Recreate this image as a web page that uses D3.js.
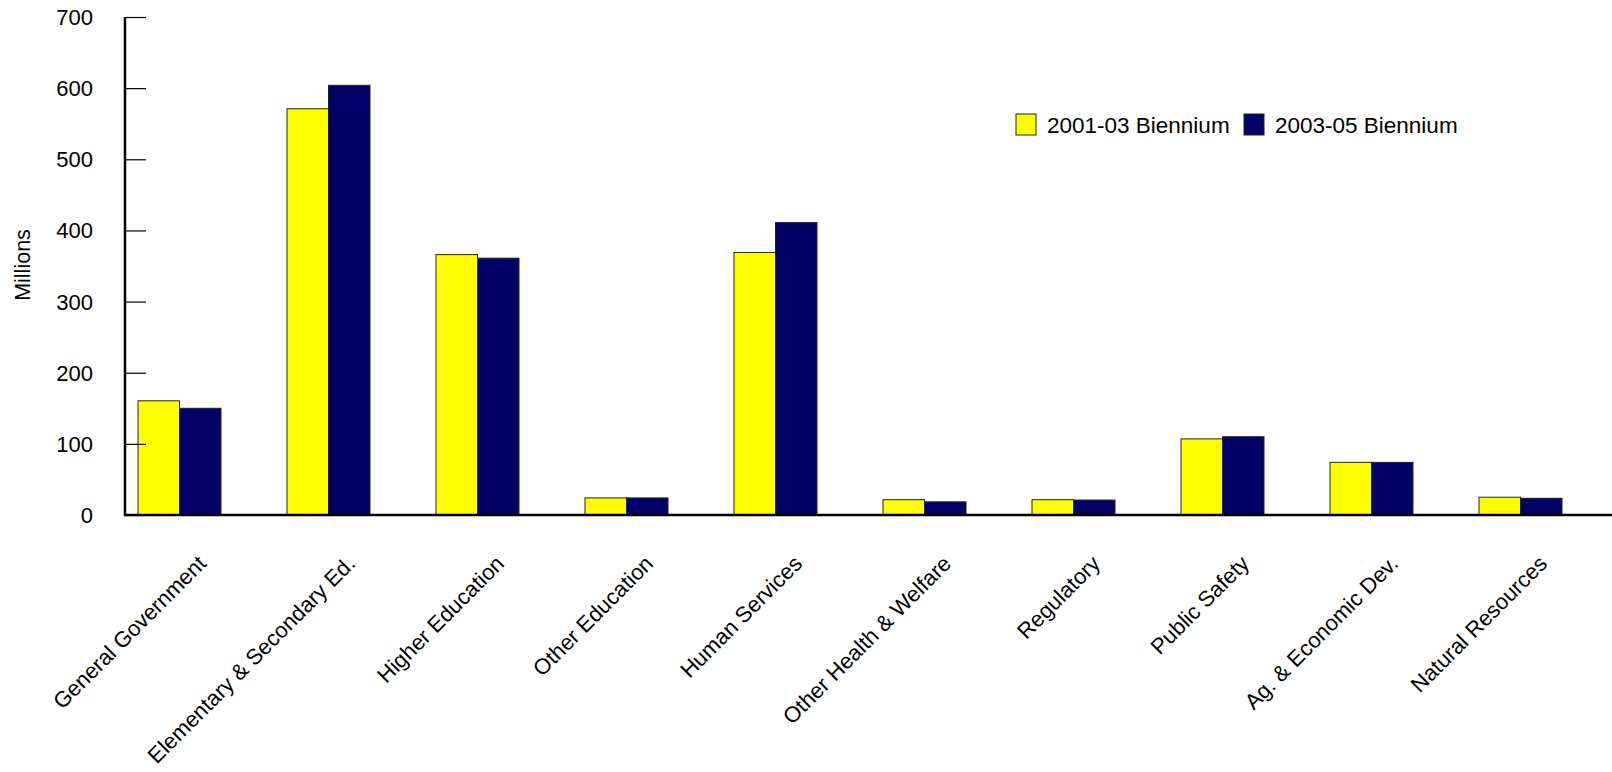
<!DOCTYPE html>
<html>
<head>
<meta charset="utf-8">
<script src="https://cdn.jsdelivr.net/npm/d3@7"></script>
<style>
  body { margin: 0; background: #fff; }
  svg text { font-family: Arial, "Liberation Sans", sans-serif; fill: #000; }
</style>
</head>
<body>
<svg id="chart" width="1612" height="772"></svg>
<script>
// data
var categories = ["General Government", "Elementary & Secondary Ed.", "Higher Education",
                  "Other Education", "Human Services", "Other Health & Welfare",
                  "Regulatory", "Public Safety", "Ag. & Economic Dev.", "Natural Resources"];
var series = ["2001-03 Biennium", "2003-05 Biennium"];
var values0103 = [160.5, 571, 366, 24, 369, 21.5, 21.5, 107, 74, 25];
var values0305 = [150, 604, 361, 24, 411, 18.5, 21, 110, 74, 23.5];
var yTicks = [0, 100, 200, 300, 400, 500, 600, 700];
var colors = ["#ffff00", "#000066"];

var svg = d3.select("svg#chart");

// plot box (note: "top" is reserved on window, so use other names)
var plotLeft = 125, plotRight = 1615, plotTop = 17, plotBottom = 515;

var x = d3.scaleBand()
          .domain(categories)
          .range([plotLeft, plotRight]);

var xs = d3.scaleBand()
           .domain(series)
           .range([13, 96]);

var y = d3.scaleLinear()
          .domain([0, 700])
          .range([plotBottom, plotTop]);

var rows = categories.map(function(c, i) {
    return {cat: c, vals: [values0103[i], values0305[i]]};
});

// bars
var groups = svg.selectAll("g.cat")
                .data(rows)
                .enter().append("g")
                .attr("class", "cat")
                .attr("transform", function(d) { return "translate(" + x(d.cat) + ",0)"; });

groups.selectAll("rect")
      .data(function(d) { return d.vals.map(function(v, j) { return {s: series[j], v: v, j: j}; }); })
      .enter().append("rect")
      .attr("x", function(d) { return xs(d.s); })
      .attr("y", function(d) { return y(d.v); })
      .attr("width", xs.bandwidth())
      .attr("height", function(d) { return plotBottom - y(d.v); })
      .attr("fill", function(d) { return colors[d.j]; })
      .attr("stroke", "#222")
      .attr("stroke-width", 1);

// y axis, ticks point inward
var yAxis = svg.append("g")
               .attr("transform", "translate(" + plotLeft + ",0)")
               .call(d3.axisRight(y).tickValues(yTicks).tickSize(21).tickFormat(""));
yAxis.select(".domain").remove();
yAxis.selectAll(".tick line").attr("stroke", "#000").attr("stroke-width", 1.2);

svg.selectAll("text.ytick")
   .data(yTicks)
   .enter().append("text")
   .attr("class", "ytick")
   .attr("x", 93)
   .attr("y", function(d) { return y(d) + 8; })
   .attr("text-anchor", "end")
   .style("font-size", "22px")
   .text(function(d) { return d; });

svg.append("line")
   .attr("x1", plotLeft).attr("x2", plotLeft)
   .attr("y1", plotTop).attr("y2", plotBottom + 1)
   .attr("stroke", "#000").attr("stroke-width", 2.5);

svg.append("line")
   .attr("x1", plotLeft - 1).attr("x2", 1612)
   .attr("y1", plotBottom).attr("y2", plotBottom)
   .attr("stroke", "#000").attr("stroke-width", 2.5);

// category labels
svg.selectAll("text.xlab")
   .data(categories)
   .enter().append("text")
   .attr("class", "xlab")
   .attr("text-anchor", "end")
   .attr("transform", function(d) {
       return "translate(" + (x(d) + x.bandwidth() / 2 + 8) + ",565) rotate(-45)";
   })
   .style("font-size", "22px")
   .text(function(d) { return d; });

// y title
svg.append("text")
   .attr("transform", "translate(30,265) rotate(-90)")
   .attr("text-anchor", "middle")
   .style("font-size", "21.5px")
   .text("Millions");

// legend
var legendX = [1016, 1244];
var legend = svg.selectAll("g.legend")
                .data(series)
                .enter().append("g")
                .attr("class", "legend")
                .attr("transform", function(d, i) { return "translate(" + legendX[i] + ",114)"; });

legend.append("rect")
      .attr("width", 20).attr("height", 21)
      .attr("fill", function(d, i) { return colors[i]; })
      .attr("stroke", "#222").attr("stroke-width", 1);

legend.append("text")
      .attr("x", 31)
      .attr("y", 19)
      .style("font-size", "22.5px")
      .text(function(d) { return d; });
</script>
</body>
</html>
